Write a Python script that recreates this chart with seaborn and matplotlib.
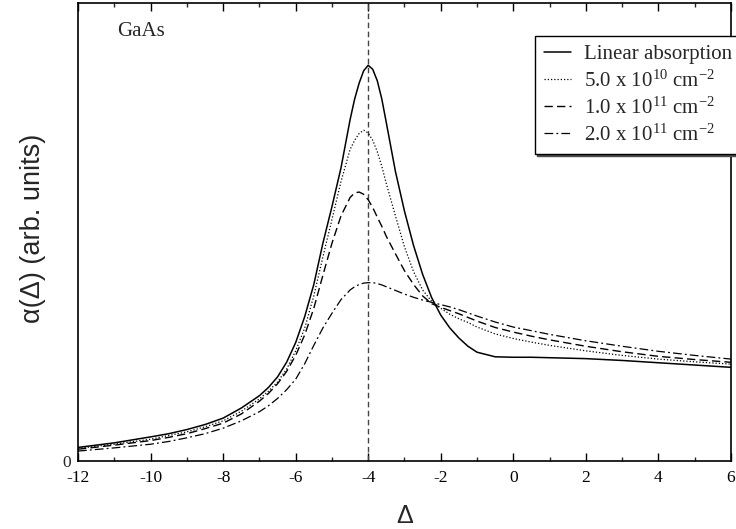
import numpy as np
import pandas as pd
import matplotlib
matplotlib.use("Agg")
import matplotlib.pyplot as plt
import seaborn as sns

# ---- data ----
delta = [-12, -11, -10, -9.5, -9, -8.5, -8, -7.5, -7, -6.75, -6.5, -6.25, -6, -5.75,
         -5.5, -5.25, -5, -4.75, -4.5, -4.375, -4.25, -4.125, -4, -3.875, -3.75, -3.625,
         -3.5, -3.25, -3, -2.75, -2.5, -2.25, -2, -1.75, -1.5, -1.25, -1, -0.5, 0, 0.5,
         1, 1.5, 2, 3, 4, 5, 6]
linear = [0.029, 0.039, 0.052, 0.059, 0.068, 0.079, 0.093, 0.115, 0.142, 0.16, 0.183,
          0.215, 0.258, 0.315, 0.385, 0.475, 0.555, 0.64, 0.745, 0.79, 0.825, 0.852,
          0.864, 0.855, 0.83, 0.79, 0.738, 0.632, 0.545, 0.47, 0.407, 0.356, 0.318,
          0.29, 0.268, 0.25, 0.237, 0.227, 0.226, 0.226, 0.225, 0.224, 0.223, 0.219,
          0.214, 0.209, 0.204]
n5e10 = [0.027, 0.036, 0.047, 0.055, 0.063, 0.074, 0.087, 0.108, 0.135, 0.152, 0.172,
         0.2, 0.24, 0.29, 0.36, 0.445, 0.527, 0.61, 0.68, 0.70, 0.715, 0.722, 0.716,
         0.70, 0.675, 0.643, 0.605, 0.535, 0.467, 0.413, 0.373, 0.348, 0.333, 0.32,
         0.31, 0.302, 0.292, 0.277, 0.267, 0.259, 0.252, 0.246, 0.24, 0.23, 0.222,
         0.216, 0.211]
n1e11 = [0.025, 0.034, 0.044, 0.051, 0.059, 0.07, 0.082, 0.102, 0.13, 0.147, 0.168,
         0.195, 0.23, 0.275, 0.333, 0.405, 0.475, 0.535, 0.575, 0.585, 0.587, 0.582,
         0.57, 0.553, 0.532, 0.512, 0.49, 0.452, 0.415, 0.385, 0.36, 0.343, 0.335,
         0.328, 0.321, 0.313, 0.305, 0.291, 0.281, 0.272, 0.264, 0.257, 0.25, 0.238,
         0.228, 0.221, 0.215]
n2e11 = [0.021, 0.028, 0.036, 0.042, 0.05, 0.059, 0.071, 0.087, 0.107, 0.12, 0.136,
         0.155, 0.178, 0.212, 0.252, 0.29, 0.322, 0.352, 0.373, 0.38, 0.385, 0.388,
         0.389, 0.389, 0.387, 0.384, 0.38, 0.372, 0.364, 0.357, 0.351, 0.346, 0.341,
         0.336, 0.33, 0.323, 0.316, 0.303, 0.292, 0.284, 0.276, 0.269, 0.262, 0.25,
         0.239, 0.23, 0.222]

labels = ["Linear absorption",
          r"5.0 x 10$^{10}$ cm$^{-2}$",
          r"1.0 x 10$^{11}$ cm$^{-2}$",
          r"2.0 x 10$^{11}$ cm$^{-2}$"]
xticks = [-12, -10, -8, -6, -4, -2, 0, 2, 4, 6]
xticklabels = ["-12", "-10", "-8", "-6", "-4", "-2", "0", "2", "4", "6"]
x_ref = -4

sns.set_theme(style="ticks")
plt.rcParams["font.family"] = ["Liberation Serif", "DejaVu Serif"]
plt.rcParams["mathtext.fontset"] = "custom"
plt.rcParams["mathtext.rm"] = "Liberation Serif"
plt.rcParams["mathtext.it"] = "Liberation Serif:italic"

n = len(delta)
df = pd.DataFrame({
    "delta": delta * 4,
    "alpha": linear + n5e10 + n1e11 + n2e11,
    "series": [labels[0]] * n + [labels[1]] * n + [labels[2]] * n + [labels[3]] * n,
})

fig = plt.figure(figsize=(7.36, 5.29), dpi=100)
ax = fig.add_axes([78 / 736, 1 - 460.7 / 529, (731 - 78) / 736, (460.7 - 3) / 529])

ax.axvline(x_ref, color="#444444", lw=1.0, ls=(0, (4, 2.5)), zorder=1)

styles = ["-", (0, (1, 1.6)), (0, (6, 3)), (0, (7, 2.5, 1.5, 2.5))]
widths = [1.1, 0.9, 1.0, 0.9]
for lab, ls, lw in zip(labels, styles, widths):
    sub = df[df["series"] == lab]
    sns.lineplot(data=sub, x="delta", y="alpha", ax=ax, color="black",
                 linestyle=ls, lw=lw, label=lab, zorder=2)

ax.set_xlim(-12, 6)
ax.set_ylim(0, 1.0)
ax.set_xticks(xticks)
ax.set_xticklabels(xticklabels)
ax.set_xticks(np.arange(-12, 7, 1), minor=True)
ax.tick_params(axis="x", which="major", direction="in", length=6, width=1,
               top=True, labelsize=12.5, pad=7, colors="black")
ax.tick_params(axis="x", which="minor", direction="in", length=3, width=1, top=True)
ax.set_yticks([0])
ax.set_yticklabels(["0"])
ax.tick_params(axis="y", which="both", length=0, labelsize=12.5, pad=5)
for s in ax.spines.values():
    s.set_linewidth(1.2)
    s.set_color("black")

ax.set_xlabel("Δ", family=["Liberation Sans", "DejaVu Sans"], fontsize=18)
ax.xaxis.set_label_coords(0.5, -0.12)
ax.xaxis.label.set_va("center")
ax.set_ylabel("α(Δ) (arb. units)", family=["Liberation Sans", "DejaVu Sans"],
              fontsize=19.5)
ax.yaxis.set_label_coords(-0.069, 0.508)
ax.yaxis.label.set_va("center")

ax.text(-10.93, 0.937, "GaAs", fontsize=15, va="center", ha="left")

leg_kw = dict(loc="upper left", bbox_to_anchor=(0.70, 0.928), fontsize=15,
              frameon=True, fancybox=False, handlelength=1.3,
              handletextpad=0.62, borderpad=0.42, labelspacing=0.28,
              borderaxespad=0)
try:
    leg = ax.legend(shadow={"ox": 1.2, "oy": -1.2, "color": "0.3", "alpha": 1},
                    **leg_kw)
except Exception:
    leg = ax.legend(shadow=False, **leg_kw)
leg.get_frame().set_edgecolor("black")
leg.get_frame().set_linewidth(1.0)
leg.get_frame().set_alpha(1)

fig.savefig("out.png", dpi=100)
